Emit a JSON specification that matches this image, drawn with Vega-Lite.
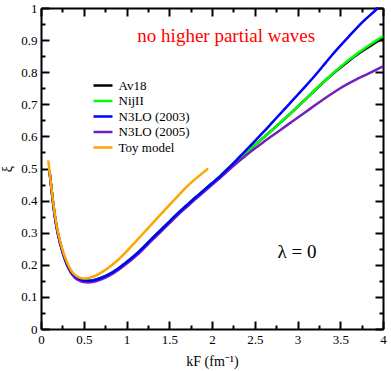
{
  "$schema": "https://vega.github.io/schema/vega-lite/v6.json",
  "width": 342,
  "height": 321,
  "autosize": {"type": "none"},
  "padding": {"left": 41, "top": 8, "right": 8, "bottom": 42},
  "background": "white",
  "config": {"view": {"stroke": null}, "font": "Liberation Serif"},
  "datasets": {
    "curves": [
      {"m":"Av18","k":0.1,"xi":0.49},{"m":"Av18","k":0.125,"xi":0.43},{"m":"Av18","k":0.15,"xi":0.375},{"m":"Av18","k":0.175,"xi":0.33},{"m":"Av18","k":0.2,"xi":0.295},{"m":"Av18","k":0.25,"xi":0.243},{"m":"Av18","k":0.3,"xi":0.205},{"m":"Av18","k":0.35,"xi":0.179},{"m":"Av18","k":0.4,"xi":0.164},{"m":"Av18","k":0.45,"xi":0.156},{"m":"Av18","k":0.5,"xi":0.151},{"m":"Av18","k":0.55,"xi":0.15},{"m":"Av18","k":0.6,"xi":0.151},{"m":"Av18","k":0.7,"xi":0.159},{"m":"Av18","k":0.8,"xi":0.171},{"m":"Av18","k":0.9,"xi":0.188},{"m":"Av18","k":1.0,"xi":0.208},{"m":"Av18","k":1.1,"xi":0.23},{"m":"Av18","k":1.2,"xi":0.255},{"m":"Av18","k":1.3,"xi":0.282},{"m":"Av18","k":1.4,"xi":0.308},{"m":"Av18","k":1.5,"xi":0.334},{"m":"Av18","k":1.6,"xi":0.36},{"m":"Av18","k":1.7,"xi":0.384},{"m":"Av18","k":1.8,"xi":0.408},{"m":"Av18","k":1.9,"xi":0.431},{"m":"Av18","k":2.0,"xi":0.454},{"m":"Av18","k":2.1,"xi":0.477},{"m":"Av18","k":2.2,"xi":0.503},{"m":"Av18","k":2.3,"xi":0.527},{"m":"Av18","k":2.4,"xi":0.55},{"m":"Av18","k":2.5,"xi":0.573},{"m":"Av18","k":2.6,"xi":0.596},{"m":"Av18","k":2.7,"xi":0.619},{"m":"Av18","k":2.8,"xi":0.643},{"m":"Av18","k":2.9,"xi":0.667},{"m":"Av18","k":3.0,"xi":0.692},{"m":"Av18","k":3.1,"xi":0.717},{"m":"Av18","k":3.2,"xi":0.743},{"m":"Av18","k":3.3,"xi":0.768},{"m":"Av18","k":3.4,"xi":0.792},{"m":"Av18","k":3.5,"xi":0.814},{"m":"Av18","k":3.6,"xi":0.835},{"m":"Av18","k":3.7,"xi":0.855},{"m":"Av18","k":3.8,"xi":0.873},{"m":"Av18","k":3.9,"xi":0.89},{"m":"Av18","k":4.0,"xi":0.907},
      {"m":"NijII","k":0.1,"xi":0.49},{"m":"NijII","k":0.125,"xi":0.43},{"m":"NijII","k":0.15,"xi":0.375},{"m":"NijII","k":0.175,"xi":0.33},{"m":"NijII","k":0.2,"xi":0.295},{"m":"NijII","k":0.25,"xi":0.243},{"m":"NijII","k":0.3,"xi":0.205},{"m":"NijII","k":0.35,"xi":0.179},{"m":"NijII","k":0.4,"xi":0.164},{"m":"NijII","k":0.45,"xi":0.156},{"m":"NijII","k":0.5,"xi":0.151},{"m":"NijII","k":0.55,"xi":0.15},{"m":"NijII","k":0.6,"xi":0.151},{"m":"NijII","k":0.7,"xi":0.159},{"m":"NijII","k":0.8,"xi":0.171},{"m":"NijII","k":0.9,"xi":0.188},{"m":"NijII","k":1.0,"xi":0.208},{"m":"NijII","k":1.1,"xi":0.23},{"m":"NijII","k":1.2,"xi":0.255},{"m":"NijII","k":1.3,"xi":0.282},{"m":"NijII","k":1.4,"xi":0.308},{"m":"NijII","k":1.5,"xi":0.334},{"m":"NijII","k":1.6,"xi":0.36},{"m":"NijII","k":1.7,"xi":0.384},{"m":"NijII","k":1.8,"xi":0.408},{"m":"NijII","k":1.9,"xi":0.431},{"m":"NijII","k":2.0,"xi":0.454},{"m":"NijII","k":2.1,"xi":0.477},{"m":"NijII","k":2.2,"xi":0.503},{"m":"NijII","k":2.3,"xi":0.527},{"m":"NijII","k":2.4,"xi":0.55},{"m":"NijII","k":2.5,"xi":0.573},{"m":"NijII","k":2.6,"xi":0.596},{"m":"NijII","k":2.7,"xi":0.619},{"m":"NijII","k":2.8,"xi":0.643},{"m":"NijII","k":2.9,"xi":0.667},{"m":"NijII","k":3.0,"xi":0.692},{"m":"NijII","k":3.1,"xi":0.717},{"m":"NijII","k":3.2,"xi":0.743},{"m":"NijII","k":3.3,"xi":0.768},{"m":"NijII","k":3.4,"xi":0.793},{"m":"NijII","k":3.5,"xi":0.816},{"m":"NijII","k":3.6,"xi":0.838},{"m":"NijII","k":3.7,"xi":0.858},{"m":"NijII","k":3.8,"xi":0.877},{"m":"NijII","k":3.9,"xi":0.895},{"m":"NijII","k":4.0,"xi":0.912},
      {"m":"N3LO (2003)","k":0.1,"xi":0.49},{"m":"N3LO (2003)","k":0.125,"xi":0.43},{"m":"N3LO (2003)","k":0.15,"xi":0.375},{"m":"N3LO (2003)","k":0.175,"xi":0.33},{"m":"N3LO (2003)","k":0.2,"xi":0.295},{"m":"N3LO (2003)","k":0.25,"xi":0.243},{"m":"N3LO (2003)","k":0.3,"xi":0.205},{"m":"N3LO (2003)","k":0.35,"xi":0.179},{"m":"N3LO (2003)","k":0.4,"xi":0.164},{"m":"N3LO (2003)","k":0.45,"xi":0.156},{"m":"N3LO (2003)","k":0.5,"xi":0.151},{"m":"N3LO (2003)","k":0.55,"xi":0.15},{"m":"N3LO (2003)","k":0.6,"xi":0.151},{"m":"N3LO (2003)","k":0.7,"xi":0.159},{"m":"N3LO (2003)","k":0.8,"xi":0.171},{"m":"N3LO (2003)","k":0.9,"xi":0.188},{"m":"N3LO (2003)","k":1.0,"xi":0.208},{"m":"N3LO (2003)","k":1.1,"xi":0.23},{"m":"N3LO (2003)","k":1.2,"xi":0.255},{"m":"N3LO (2003)","k":1.3,"xi":0.282},{"m":"N3LO (2003)","k":1.4,"xi":0.308},{"m":"N3LO (2003)","k":1.5,"xi":0.334},{"m":"N3LO (2003)","k":1.6,"xi":0.36},{"m":"N3LO (2003)","k":1.7,"xi":0.384},{"m":"N3LO (2003)","k":1.8,"xi":0.408},{"m":"N3LO (2003)","k":1.9,"xi":0.431},{"m":"N3LO (2003)","k":2.0,"xi":0.454},{"m":"N3LO (2003)","k":2.1,"xi":0.477},{"m":"N3LO (2003)","k":2.2,"xi":0.503},{"m":"N3LO (2003)","k":2.3,"xi":0.53},{"m":"N3LO (2003)","k":2.4,"xi":0.557},{"m":"N3LO (2003)","k":2.5,"xi":0.585},{"m":"N3LO (2003)","k":2.6,"xi":0.613},{"m":"N3LO (2003)","k":2.7,"xi":0.642},{"m":"N3LO (2003)","k":2.8,"xi":0.671},{"m":"N3LO (2003)","k":2.9,"xi":0.7},{"m":"N3LO (2003)","k":3.0,"xi":0.729},{"m":"N3LO (2003)","k":3.1,"xi":0.758},{"m":"N3LO (2003)","k":3.2,"xi":0.788},{"m":"N3LO (2003)","k":3.3,"xi":0.82},{"m":"N3LO (2003)","k":3.4,"xi":0.852},{"m":"N3LO (2003)","k":3.5,"xi":0.882},{"m":"N3LO (2003)","k":3.6,"xi":0.911},{"m":"N3LO (2003)","k":3.7,"xi":0.94},{"m":"N3LO (2003)","k":3.8,"xi":0.966},{"m":"N3LO (2003)","k":3.9,"xi":0.99},{"m":"N3LO (2003)","k":3.94,"xi":1.0},
      {"m":"N3LO (2005)","k":0.1,"xi":0.49},{"m":"N3LO (2005)","k":0.125,"xi":0.43},{"m":"N3LO (2005)","k":0.15,"xi":0.373},{"m":"N3LO (2005)","k":0.175,"xi":0.327},{"m":"N3LO (2005)","k":0.2,"xi":0.292},{"m":"N3LO (2005)","k":0.25,"xi":0.24},{"m":"N3LO (2005)","k":0.3,"xi":0.201},{"m":"N3LO (2005)","k":0.35,"xi":0.175},{"m":"N3LO (2005)","k":0.4,"xi":0.159},{"m":"N3LO (2005)","k":0.45,"xi":0.151},{"m":"N3LO (2005)","k":0.5,"xi":0.146},{"m":"N3LO (2005)","k":0.55,"xi":0.145},{"m":"N3LO (2005)","k":0.6,"xi":0.146},{"m":"N3LO (2005)","k":0.7,"xi":0.154},{"m":"N3LO (2005)","k":0.8,"xi":0.166},{"m":"N3LO (2005)","k":0.9,"xi":0.183},{"m":"N3LO (2005)","k":1.0,"xi":0.203},{"m":"N3LO (2005)","k":1.1,"xi":0.225},{"m":"N3LO (2005)","k":1.2,"xi":0.25},{"m":"N3LO (2005)","k":1.3,"xi":0.277},{"m":"N3LO (2005)","k":1.4,"xi":0.303},{"m":"N3LO (2005)","k":1.5,"xi":0.329},{"m":"N3LO (2005)","k":1.6,"xi":0.355},{"m":"N3LO (2005)","k":1.7,"xi":0.379},{"m":"N3LO (2005)","k":1.8,"xi":0.403},{"m":"N3LO (2005)","k":1.9,"xi":0.426},{"m":"N3LO (2005)","k":2.0,"xi":0.449},{"m":"N3LO (2005)","k":2.1,"xi":0.472},{"m":"N3LO (2005)","k":2.2,"xi":0.496},{"m":"N3LO (2005)","k":2.3,"xi":0.519},{"m":"N3LO (2005)","k":2.4,"xi":0.541},{"m":"N3LO (2005)","k":2.5,"xi":0.562},{"m":"N3LO (2005)","k":2.6,"xi":0.582},{"m":"N3LO (2005)","k":2.7,"xi":0.601},{"m":"N3LO (2005)","k":2.8,"xi":0.62},{"m":"N3LO (2005)","k":2.9,"xi":0.639},{"m":"N3LO (2005)","k":3.0,"xi":0.658},{"m":"N3LO (2005)","k":3.1,"xi":0.677},{"m":"N3LO (2005)","k":3.2,"xi":0.696},{"m":"N3LO (2005)","k":3.3,"xi":0.715},{"m":"N3LO (2005)","k":3.4,"xi":0.733},{"m":"N3LO (2005)","k":3.5,"xi":0.75},{"m":"N3LO (2005)","k":3.6,"xi":0.765},{"m":"N3LO (2005)","k":3.7,"xi":0.779},{"m":"N3LO (2005)","k":3.8,"xi":0.792},{"m":"N3LO (2005)","k":3.9,"xi":0.805},{"m":"N3LO (2005)","k":4.0,"xi":0.818},
      {"m":"Toy model","k":0.085,"xi":0.525},{"m":"Toy model","k":0.1,"xi":0.49},{"m":"Toy model","k":0.125,"xi":0.433},{"m":"Toy model","k":0.15,"xi":0.38},{"m":"Toy model","k":0.175,"xi":0.335},{"m":"Toy model","k":0.2,"xi":0.3},{"m":"Toy model","k":0.25,"xi":0.248},{"m":"Toy model","k":0.3,"xi":0.21},{"m":"Toy model","k":0.35,"xi":0.183},{"m":"Toy model","k":0.4,"xi":0.168},{"m":"Toy model","k":0.45,"xi":0.16},{"m":"Toy model","k":0.5,"xi":0.157},{"m":"Toy model","k":0.55,"xi":0.158},{"m":"Toy model","k":0.6,"xi":0.162},{"m":"Toy model","k":0.7,"xi":0.175},{"m":"Toy model","k":0.8,"xi":0.193},{"m":"Toy model","k":0.9,"xi":0.215},{"m":"Toy model","k":1.0,"xi":0.242},{"m":"Toy model","k":1.1,"xi":0.27},{"m":"Toy model","k":1.2,"xi":0.299},{"m":"Toy model","k":1.3,"xi":0.328},{"m":"Toy model","k":1.4,"xi":0.357},{"m":"Toy model","k":1.5,"xi":0.386},{"m":"Toy model","k":1.6,"xi":0.414},{"m":"Toy model","k":1.7,"xi":0.442},{"m":"Toy model","k":1.8,"xi":0.466},{"m":"Toy model","k":1.9,"xi":0.488},{"m":"Toy model","k":1.955,"xi":0.5}
    ],
    "ann": [
      {"t":"no higher partial waves","k":2.167,"xi":0.895},
      {"t":"λ = 0","k":2.994,"xi":0.222}
    ]
  },
  "layer": [
    {
      "data": {"name": "curves"},
      "encoding": {
        "x": {"field": "k", "type": "quantitative", "scale": {"domain": [0, 4], "nice": false, "zero": false},
          "axis": {"orient": "bottom", "values": [0,0.25,0.5,0.75,1,1.25,1.5,1.75,2,2.25,2.5,2.75,3,3.25,3.5,3.75,4], "format": "~g",
            "labelExpr": "(datum.value*2)%1==0 ? datum.label : ''",
            "tickSize": {"condition": {"test": "(datum.value*2)%1==0", "value": -8}, "value": -4},
            "tickWidth": 2, "tickColor": "black", "domainColor": "black", "domainWidth": 2, "grid": false,
            "labelFont": "Liberation Serif", "labelFontSize": 13, "labelColor": "black", "labelPadding": 12, "labelFlush": false, "labelOverlap": false,
            "title": "kF (fm⁻¹)", "titleFont": "Liberation Serif", "titleFontSize": 14, "titleFontWeight": "normal", "titleColor": "black", "titlePadding": 4}},
        "y": {"field": "xi", "type": "quantitative", "scale": {"domain": [0, 1], "nice": false, "zero": false},
          "axis": {"orient": "left", "values": [0,0.05,0.1,0.15,0.2,0.25,0.3,0.35,0.4,0.45,0.5,0.55,0.6,0.65,0.7,0.75,0.8,0.85,0.9,0.95,1], "format": "~g",
            "labelExpr": "round(datum.value*20)%2==0 ? datum.label : ''",
            "tickSize": {"condition": {"test": "round(datum.value*20)%2==0", "value": -8}, "value": -4},
            "tickWidth": 2, "tickColor": "black", "domainColor": "black", "domainWidth": 2, "grid": false,
            "labelFont": "Liberation Serif", "labelFontSize": 13, "labelColor": "black", "labelPadding": 12, "labelFlush": false, "labelOverlap": false,
            "title": "ξ", "titleFont": "Liberation Serif", "titleFontSize": 14, "titleFontWeight": "normal", "titleColor": "black", "titlePadding": 6}},
        "color": {"field": "m", "type": "nominal",
          "scale": {"domain": ["Av18", "NijII", "N3LO (2003)", "N3LO (2005)", "Toy model"], "range": ["#000000", "#00ff00", "#0000ff", "#7221bc", "#ffa500"]},
          "legend": {"orient": "none", "legendX": 55.5, "legendY": 71, "title": null, "symbolType": "M-2,0H2", "symbolSize": 90.25, "symbolStrokeWidth": 2.5,
            "labelFont": "Liberation Serif", "labelFontSize": 13, "labelColor": "black", "labelOffset": 9, "rowPadding": 1.5, "padding": 0}}
      },
      "layer": [
        {"transform": [{"filter": "datum.m == 'Av18'"}], "mark": {"type": "line", "strokeWidth": 2.5, "interpolate": "monotone"}},
        {"transform": [{"filter": "datum.m == 'NijII'"}], "mark": {"type": "line", "strokeWidth": 2.5, "interpolate": "monotone"}},
        {"transform": [{"filter": "datum.m == 'N3LO (2005)'"}], "mark": {"type": "line", "strokeWidth": 2.5, "interpolate": "monotone"}},
        {"transform": [{"filter": "datum.m == 'N3LO (2003)'"}], "mark": {"type": "line", "strokeWidth": 2.5, "interpolate": "monotone"}},
        {"transform": [{"filter": "datum.m == 'Toy model'"}], "mark": {"type": "line", "strokeWidth": 2.5, "interpolate": "monotone"}}
      ]
    },
    {
      "data": {"name": "ann"},
      "mark": {"type": "text", "font": "Liberation Serif", "fontSize": 19, "baseline": "alphabetic", "align": "center"},
      "encoding": {
        "x": {"field": "k", "type": "quantitative",
          "axis": {"orient": "top", "values": [0,0.25,0.5,0.75,1,1.25,1.5,1.75,2,2.25,2.5,2.75,3,3.25,3.5,3.75,4], "labels": false, "title": null,
            "tickSize": {"condition": {"test": "(datum.value*2)%1==0", "value": -8}, "value": -4},
            "tickWidth": 2, "tickColor": "black", "domainColor": "black", "domainWidth": 2, "grid": false}},
        "y": {"field": "xi", "type": "quantitative",
          "axis": {"orient": "right", "values": [0,0.05,0.1,0.15,0.2,0.25,0.3,0.35,0.4,0.45,0.5,0.55,0.6,0.65,0.7,0.75,0.8,0.85,0.9,0.95,1], "labels": false, "title": null,
            "tickSize": {"condition": {"test": "round(datum.value*20)%2==0", "value": -8}, "value": -4},
            "tickWidth": 2, "tickColor": "black", "domainColor": "black", "domainWidth": 2, "grid": false}},
        "text": {"field": "t"},
        "color": {"condition": {"test": "datum.t == 'λ = 0'", "value": "#000000"}, "value": "#ff0000"}
      }
    }
  ],
  "resolve": {"axis": {"x": "independent", "y": "independent"}}
}
